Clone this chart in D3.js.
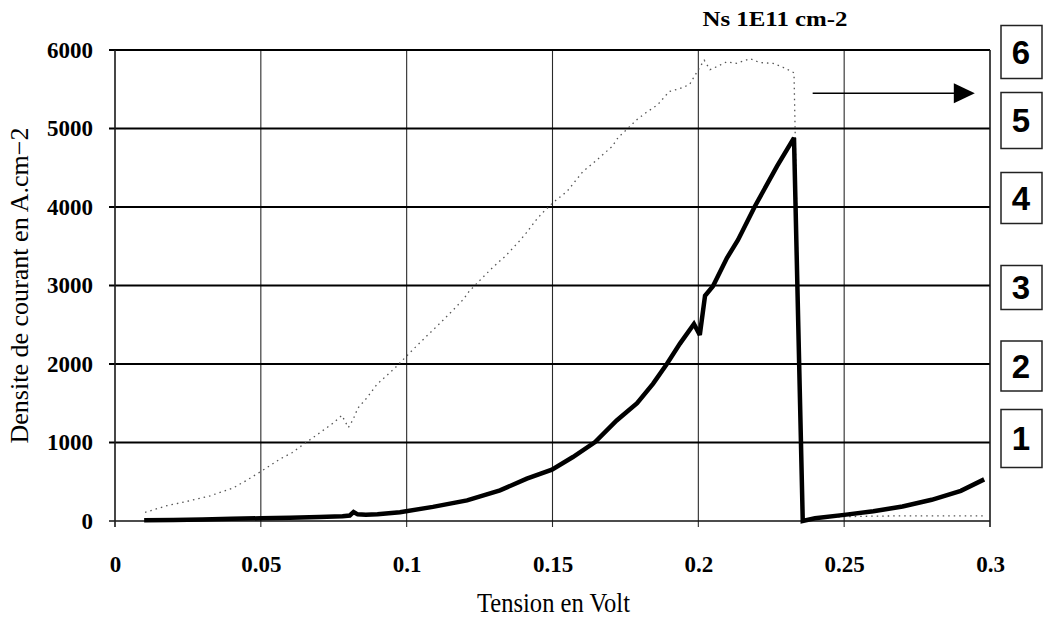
<!DOCTYPE html>
<html>
<head>
<meta charset="utf-8">
<script src="https://cdn.jsdelivr.net/npm/d3@7"></script>
<style>
  html, body { margin: 0; padding: 0; background: #fff; }
  svg { display: block; }
</style>
</head>
<body>
<svg id="chart" width="1043" height="625"></svg>
<script>
// Tension (V) vs current density (A.cm-2), Ns = 1E11 cm-2
const xTickValues = [0, 0.05, 0.1, 0.15, 0.2, 0.25, 0.3];
const xTickLabels = ["0", "0.05", "0.1", "0.15", "0.2", "0.25", "0.3"];
const yTickValues = [0, 1000, 2000, 3000, 4000, 5000, 6000];
const yTickLabels = ["0", "1000", "2000", "3000", "4000", "5000", "6000"];

// main (thick) characteristic
const solidVolt = [0.010, 0.020, 0.030, 0.040, 0.050, 0.060, 0.070, 0.078, 0.0805, 0.0818, 0.0832, 0.086, 0.090,
  0.0977, 0.109, 0.1207, 0.132, 0.1412, 0.1498, 0.157, 0.1646, 0.172, 0.179, 0.1845, 0.1892, 0.1937, 0.1985,
  0.2005, 0.2023, 0.205, 0.2098, 0.2136, 0.2194, 0.227, 0.2328, 0.2358, 0.240, 0.250, 0.260, 0.270, 0.280, 0.290, 0.298];
const solidCurrent = [10, 14, 20, 28, 35, 42, 52, 60, 70, 115, 85, 80, 85,
  112, 180, 263, 390, 540, 655, 815, 1005, 1280, 1500, 1750, 2000, 2260, 2510,
  2370, 2870, 2990, 3350, 3580, 4010, 4520, 4880, 0, 35, 78, 125, 185, 270, 385, 530];

// dotted characteristic
const dotVolt = [0.0103, 0.0178, 0.0247, 0.0326, 0.0405, 0.0452, 0.0504, 0.0566, 0.0607, 0.064, 0.068, 0.0747,
  0.0778, 0.080, 0.0816, 0.0833, 0.0864, 0.0898, 0.096, 0.1018, 0.1056, 0.112, 0.116, 0.1196, 0.1214, 0.126,
  0.1295, 0.134, 0.139, 0.141, 0.1447, 0.1467, 0.150, 0.155, 0.1604, 0.1646, 0.1704, 0.1725, 0.1755, 0.179,
  0.182, 0.186, 0.190, 0.1937, 0.197, 0.198, 0.2005, 0.202, 0.204, 0.2065, 0.2098, 0.213, 0.2177, 0.221,
  0.2256, 0.229, 0.2307, 0.2328, 0.2358, 0.240, 0.250, 0.260, 0.270, 0.2975];
const dotCurrent = [110, 195, 250, 320, 420, 520, 640, 790, 870, 960, 1065, 1245,
  1345, 1190, 1290, 1440, 1570, 1740, 1950, 2170, 2310, 2540, 2690, 2830, 2925, 3100,
  3230, 3380, 3580, 3670, 3850, 3930, 4050, 4200, 4450, 4580, 4770, 4885, 4990, 5115,
  5200, 5300, 5470, 5510, 5560, 5625, 5780, 5870, 5750, 5790, 5850, 5830, 5890, 5840,
  5830, 5780, 5750, 5710, 20, 45, 55, 62, 65, 65];

// numbered level markers beside the grid lines (thousands)
const levelLabels = ["1", "2", "3", "4", "5", "6"];
const levelValues = [1000, 2000, 3000, 4000, 5000, 6000];

// arrow annotation, in data units
const arrowFrom = [0.2392, 5450];
const arrowTo = [0.2948, 5450];

const titleText = "Ns 1E11 cm-2";
const xTitle = "Tension en Volt";
const yTitle = "Densite de courant en A.cm\u22122";

const svg = d3.select("#chart");
const W = 1043, H = 625;
const plot = { left: 115, right: 990, top: 50, bottom: 521 };

const x = d3.scaleLinear().domain([0, 0.3]).range([plot.left, plot.right]);
const y = d3.scaleLinear().domain([0, 6000]).range([plot.bottom, plot.top]);

svg.append("rect").attr("width", W).attr("height", H).attr("fill", "#fff");

const serif = "'Liberation Serif', 'Times New Roman', serif";

// vertical grid lines (thin) extend a little below the frame as ticks
svg.append("g")
  .selectAll("line")
  .data(xTickValues)
  .join("line")
  .attr("x1", d => x(d)).attr("x2", d => x(d))
  .attr("y1", plot.top).attr("y2", plot.bottom + 6)
  .attr("stroke", "#2a2a2a")
  .attr("stroke-width", 1.1);

// horizontal grid lines (heavy)
svg.append("g")
  .selectAll("line")
  .data(yTickValues.filter(v => v > 0))
  .join("line")
  .attr("x1", plot.left - 6).attr("x2", plot.right)
  .attr("y1", d => y(d)).attr("y2", d => y(d))
  .attr("stroke", "#000")
  .attr("stroke-width", 2);

// baseline
svg.append("line")
  .attr("x1", plot.left - 6).attr("x2", plot.right)
  .attr("y1", y(0)).attr("y2", y(0))
  .attr("stroke", "#111").attr("stroke-width", 1.4);

// y axis labels
const yAxis = d3.axisLeft(y)
  .tickValues(yTickValues)
  .tickFormat((d, i) => yTickLabels[i])
  .tickSize(0)
  .tickPadding(22);
const gy = svg.append("g").attr("transform", `translate(${plot.left},0)`).call(yAxis);
gy.select(".domain").remove();
gy.selectAll("text")
  .attr("font-family", serif)
  .attr("font-weight", "bold")
  .attr("font-size", 23)
  .attr("fill", "#000");

// x axis labels
const xAxis = d3.axisBottom(x)
  .tickValues(xTickValues)
  .tickFormat((d, i) => xTickLabels[i])
  .tickSize(0)
  .tickPadding(35);
const gx = svg.append("g").attr("transform", `translate(0,${plot.bottom})`).call(xAxis);
gx.select(".domain").remove();
gx.selectAll("text")
  .attr("font-family", serif)
  .attr("font-weight", "bold")
  .attr("font-size", 23)
  .attr("fill", "#000");

const dotData = dotVolt.map((v, i) => [v, dotCurrent[i]]);
const solidData = solidVolt.map((v, i) => [v, solidCurrent[i]]);
const line = d3.line().x(d => x(d[0])).y(d => y(d[1]));

// dotted series
svg.append("path")
  .datum(dotData)
  .attr("d", line)
  .attr("fill", "none")
  .attr("stroke", "#555")
  .attr("stroke-width", 1.3)
  .attr("stroke-dasharray", "1.5,4");

// solid series
svg.append("path")
  .datum(solidData)
  .attr("d", line)
  .attr("fill", "none")
  .attr("stroke", "#000")
  .attr("stroke-width", 4.5)
  .attr("stroke-linejoin", "miter")
  .attr("stroke-miterlimit", 3);

// left axis line and right frame
svg.append("line")
  .attr("x1", plot.left).attr("x2", plot.left)
  .attr("y1", plot.top).attr("y2", plot.bottom + 6)
  .attr("stroke", "#222").attr("stroke-width", 1.3);
svg.append("line")
  .attr("x1", plot.right).attr("x2", plot.right)
  .attr("y1", plot.top).attr("y2", plot.bottom + 6)
  .attr("stroke", "#222").attr("stroke-width", 1.3);

// arrow
const ax0 = x(arrowFrom[0]), ax1 = x(arrowTo[0]), ay = y(arrowFrom[1]);
svg.append("line")
  .attr("x1", ax0).attr("x2", ax1 - 18)
  .attr("y1", ay).attr("y2", ay)
  .attr("stroke", "#000").attr("stroke-width", 1.6);
svg.append("path")
  .attr("d", `M${ax1 - 21},${ay - 10} L${ax1},${ay} L${ax1 - 21},${ay + 10} Z`)
  .attr("fill", "#000");

// numbered level boxes to the right of the frame
const boxNudge = [-4, 2, 2, -9, -8, 2];
const boxH = [58, 50, 44, 51, 56, 53];
const boxes = svg.append("g").selectAll("g")
  .data(levelLabels)
  .join("g")
  .attr("transform", (d, i) => `translate(${plot.right + 31},${y(levelValues[i]) + boxNudge[i]})`);
boxes.append("rect")
  .attr("x", -20).attr("width", 41)
  .attr("y", (d, i) => -boxH[i] / 2)
  .attr("height", (d, i) => boxH[i])
  .attr("fill", "#fff")
  .attr("stroke", "#222")
  .attr("stroke-width", 1.5);
boxes.append("text")
  .attr("text-anchor", "middle")
  .attr("dy", "0.36em")
  .attr("font-family", "'Liberation Sans', Arial, sans-serif")
  .attr("font-weight", "bold")
  .attr("font-size", 33)
  .text(d => d);

// titles
svg.append("text")
  .attr("x", 775).attr("y", 26)
  .attr("text-anchor", "middle")
  .attr("font-family", serif)
  .attr("font-weight", "bold")
  .attr("font-size", 21)
  .attr("textLength", 145)
  .attr("lengthAdjust", "spacingAndGlyphs")
  .text(titleText);

svg.append("text")
  .attr("x", (plot.left + plot.right) / 2 + 1).attr("y", 612)
  .attr("text-anchor", "middle")
  .attr("font-family", serif)
  .attr("font-size", 27)
  .attr("textLength", 153)
  .attr("lengthAdjust", "spacingAndGlyphs")
  .text(xTitle);

svg.append("text")
  .attr("transform", `translate(28,${(y(1000) + y(5000)) / 2}) rotate(-90)`)
  .attr("text-anchor", "middle")
  .attr("font-family", serif)
  .attr("font-size", 26)
  .attr("textLength", 316)
  .attr("lengthAdjust", "spacingAndGlyphs")
  .text(yTitle);
</script>
</body>
</html>
